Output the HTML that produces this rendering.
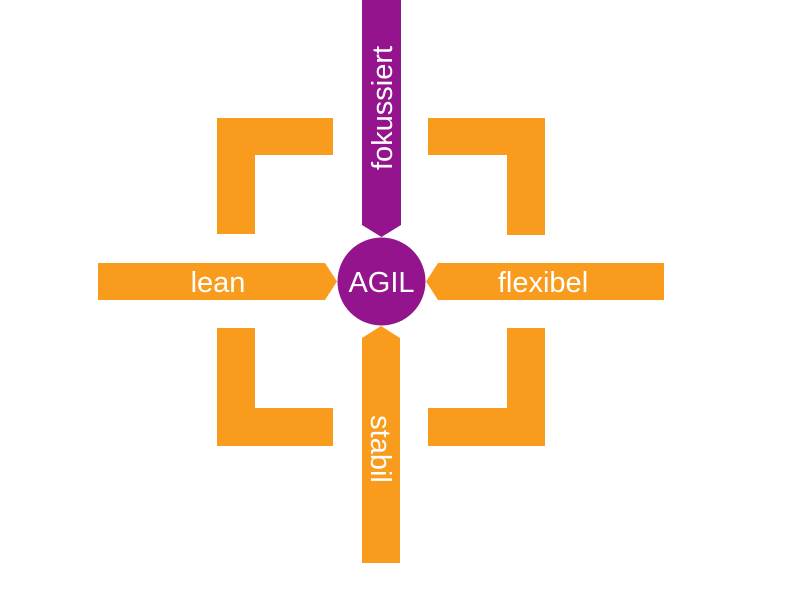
<!DOCTYPE html>
<html><head><meta charset="utf-8"><style>html,body{margin:0;padding:0;background:#fff;}svg{display:block}</style></head>
<body>
<svg width="800" height="600" viewBox="0 0 800 600" xmlns="http://www.w3.org/2000/svg">
<g fill="#F99B1C">
<path d="M217,118 H333 V155 H255 V234 H217 Z"/>
<path d="M428,118 H545 V235 H507 V155 H428 Z"/>
<path d="M217,328 H255 V408 H333 V446 H217 Z"/>
<path d="M507,328 H545 V446 H428 V408 H507 Z"/>
<path d="M98,263 H325 L337,281.5 L325,300 H98 Z"/>
<path d="M664,263 H438 L426,281.5 L438,300 H664 Z"/>
<path d="M362,338 L381,326 L400,338 V563 H362 Z"/>
</g>
<path d="M362,0 H401 V225 L381.5,237 L362,225 Z" fill="#93148D"/>
<circle cx="381.5" cy="281.5" r="44" fill="#93148D"/>
<g fill="#fff" font-family="'Liberation Sans',sans-serif" font-size="29">
<text x="381.5" y="292" text-anchor="middle">AGIL</text>
<text x="218" y="292" text-anchor="middle">lean</text>
<text x="543" y="292" text-anchor="middle">flexibel</text>
<text transform="translate(392,108) rotate(-90)" text-anchor="middle">fokussiert</text>
<text transform="translate(371,449) rotate(90)" text-anchor="middle">stabil</text>
</g>
</svg>
</body></html>
